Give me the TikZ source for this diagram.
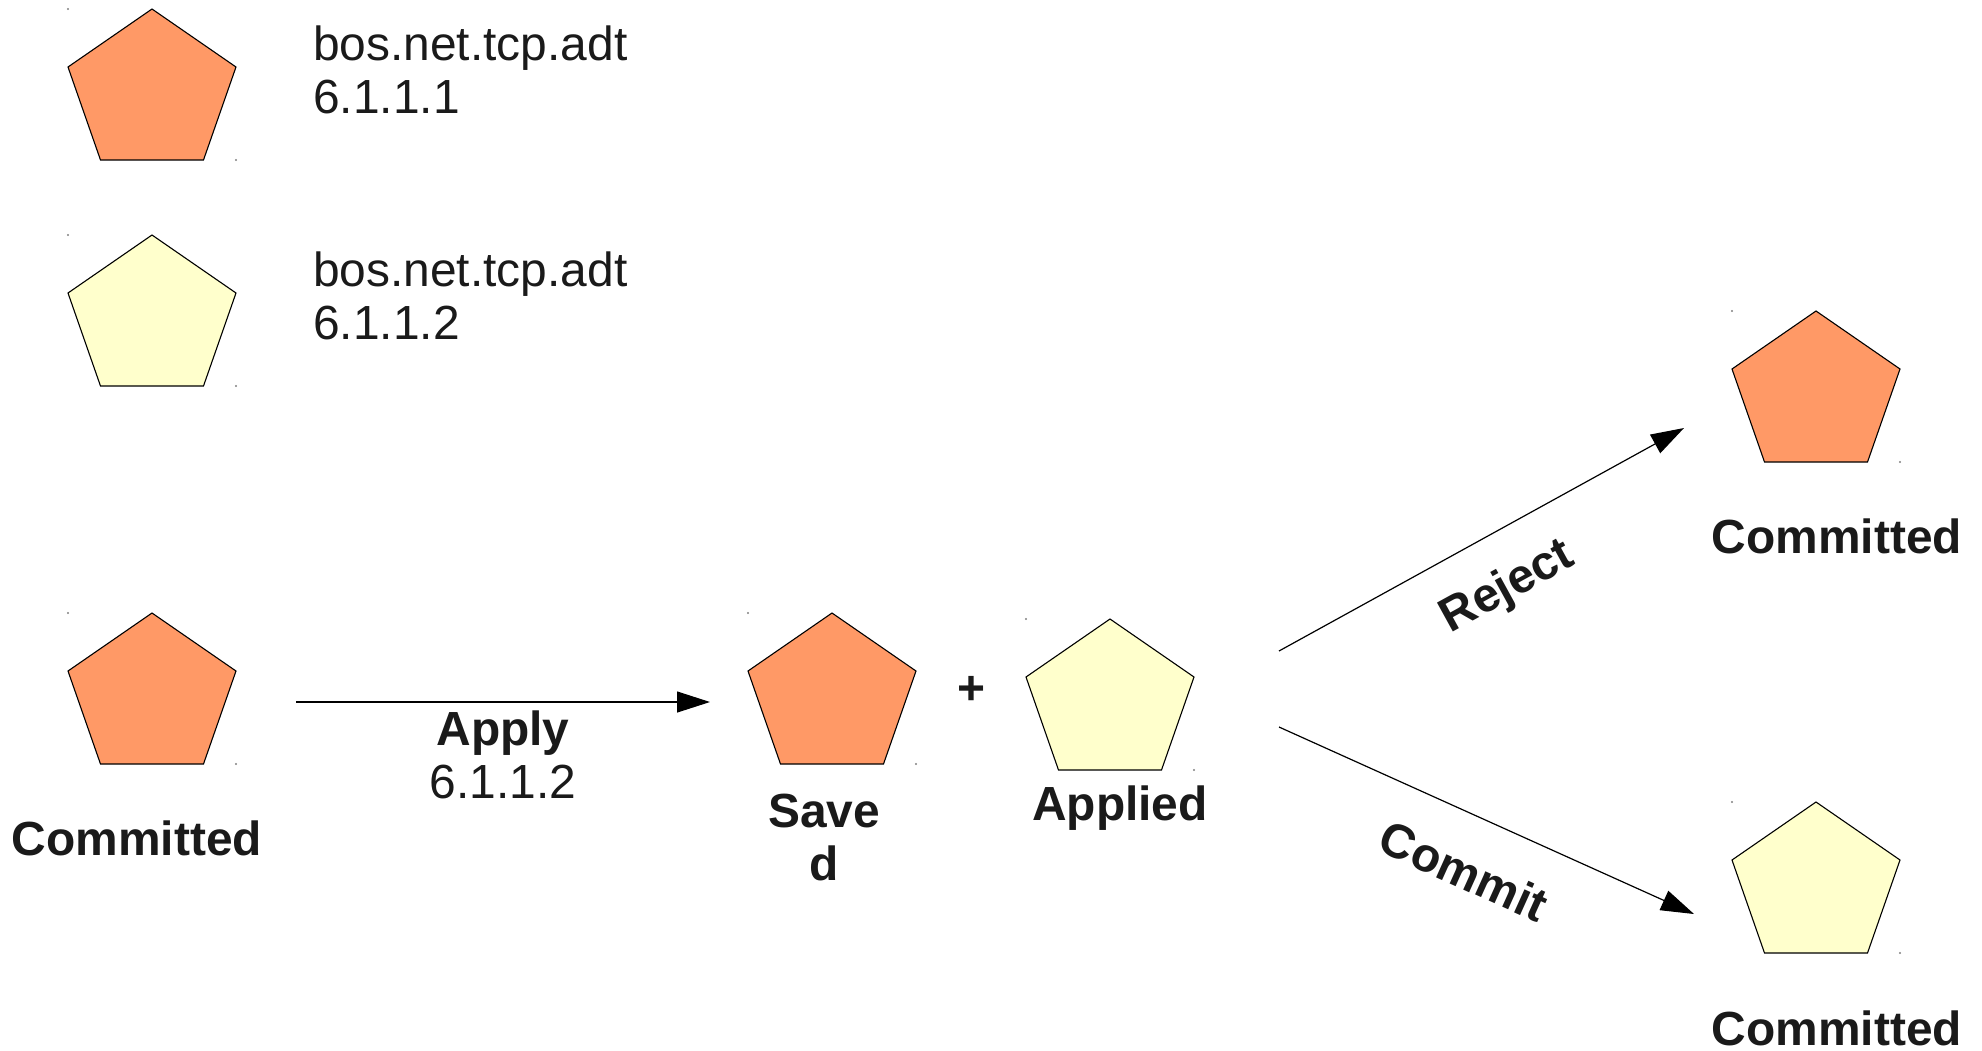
\documentclass[tikz,border=0pt]{standalone}
\usepackage{fontspec}
\setmainfont{Liberation Sans}
\usetikzlibrary{arrows.meta}
\definecolor{pOrange}{RGB}{255,153,102}
\definecolor{pYellow}{RGB}{255,255,204}
\definecolor{txt}{RGB}{26,26,26}
\tikzset{
  pentline/.style={draw=black, line width=1.1pt, line join=miter},
  lbl/.style={text=txt, font=\fontsize{47.9}{53}\selectfont, inner sep=0pt},
  blbl/.style={text=txt, font=\fontsize{47.9}{53}\selectfont\bfseries, inner sep=0pt},
  arr/.style={draw=black, line width=1.2pt, -{Triangle[length=33pt,width=21pt]}},
}
\newcommand\pentagon[3]{%
  \coordinate (#1) at (#2);
  \draw[pentline, fill=#3] (#1) -- ++(84,58) -- ++(-32.5,93) -- ++(-103,0) -- ++(-32.5,-93) -- cycle;
  \fill[gray] (#1) ++(-84,0) circle (1.1);
  \fill[gray] (#1) ++(84,151) circle (1.1);
}
\begin{document}
\begin{tikzpicture}[x=1pt,y=-1pt]
\useasboundingbox (0,0) rectangle (1982,1050);
% legend
\pentagon{pA}{152,9}{pOrange}
\pentagon{pB}{152,235}{pYellow}
\node[lbl, anchor=base west] (l1a) at (313,60) {bos.net.tcp.adt};
\node[lbl, anchor=base west] (l1b) at (313,113) {6.1.1.1};
\node[lbl, anchor=base west] (l2a) at (313,286) {bos.net.tcp.adt};
\node[lbl, anchor=base west] (l2b) at (313,339) {6.1.1.2};
% states
\pentagon{pC}{152,613}{pOrange}
\pentagon{pD}{832,613}{pOrange}
\pentagon{pE}{1110,619}{pYellow}
\pentagon{pF}{1816,311}{pOrange}
\pentagon{pG}{1816,802}{pYellow}
\node[blbl, anchor=base] (cC) at (137,855) {Committed};
\node[blbl, anchor=base] (apply) at (503,745) {Apply};
\node[lbl, anchor=base] (applyv) at (503,798) {6.1.1.2};
\node[blbl, anchor=base] (save1) at (824,827) {Save};
\node[blbl, anchor=base] (save2) at (824,880) {d};
\node[blbl] (plus) at (971,690) {+};
\node[blbl, anchor=base] (applied) at (1120,820) {Applied};
\node[blbl, anchor=base] (cF) at (1837,553) {Committed};
\node[blbl, anchor=base] (cG) at (1837,1045) {Committed};
\node[blbl, rotate=28.8] (rej) at (1508,588) {Reject};
\node[blbl, rotate=-24.3] (com) at (1464,871) {Commit};
% connectors
\coordinate (aS) at (296,702);
\coordinate (aE) at (710,702);
\coordinate (rS) at (1279,651);
\coordinate (rE) at (1684,428);
\coordinate (cS) at (1279,727);
\coordinate (cE) at (1694,914);
\draw[arr] (aS) -- (aE);
\draw[arr] (rS) -- (rE);
\draw[arr] (cS) -- (cE);
\end{tikzpicture}
\end{document}
